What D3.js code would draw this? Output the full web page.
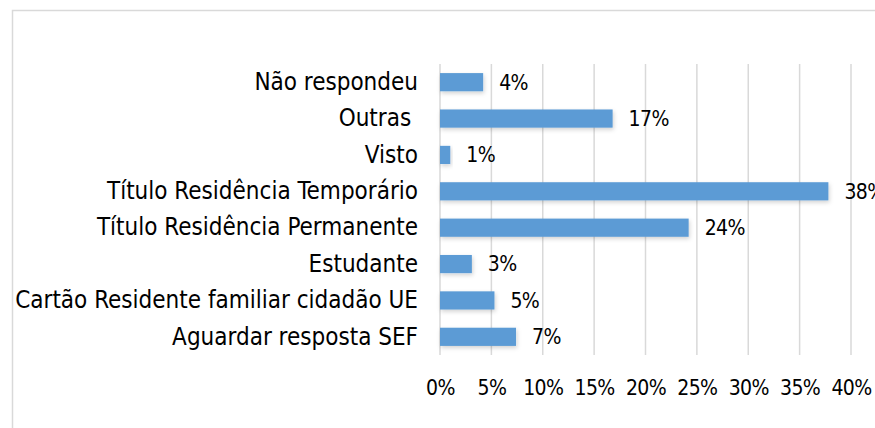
<!DOCTYPE html>
<html>
<head>
<meta charset="utf-8">
<script src="https://cdn.jsdelivr.net/npm/d3@7"></script>
<style>
    body { margin: 0; background: #fff; }
    svg text { fill: #000; }
</style>
</head>
<body>
<div id="chart"></div>
<script>
(function(){
    "use strict";

    var categories = [
        "Não respondeu",
        "Outras ",
        "Visto",
        "Título Residência Temporário",
        "Título Residência Permanente",
        "Estudante",
        "Cartão Residente familiar cidadão UE",
        "Aguardar resposta SEF"
    ];
    var values = [0.042, 0.168, 0.010, 0.378, 0.242, 0.031, 0.053, 0.074];
    var tickValues = [0, 0.05, 0.10, 0.15, 0.20, 0.25, 0.30, 0.35, 0.40];

    var width = 875, height = 428;
    var margin = { top: 64, right: 24, bottom: 73, left: 440 };
    var labelFont = "\"DejaVu Sans Condensed\", \"DejaVu Sans\", sans-serif";

    var svg = d3.select("#chart")
        .append("svg")
        .attr("width", width)
        .attr("height", height);

    // outer frame
    svg.append("rect")
        .attr("x", 12.5)
        .attr("y", 10.5)
        .attr("width", width)
        .attr("height", height)
        .attr("fill", "none")
        .attr("stroke", "#d9d9d9")
        .attr("stroke-width", 1.5);

    var x = d3.scaleLinear()
        .domain([0, 0.40])
        .range([margin.left, 851]);

    var y = d3.scaleBand()
        .domain(categories)
        .range([margin.top, height - margin.bottom])
        .paddingInner(0.5)
        .paddingOuter(0.25);

    var fmt = d3.format(".0%");

    // gridlines
    svg.append("g")
        .selectAll("line")
        .data(tickValues)
        .enter()
        .append("line")
        .attr("x1", function(d) { return x(d); })
        .attr("x2", function(d) { return x(d); })
        .attr("y1", margin.top)
        .attr("y2", height - margin.bottom)
        .attr("stroke", "#d9d9d9")
        .attr("stroke-width", 1.5);

    // x tick labels
    var xAxis = d3.axisBottom(x)
        .tickValues(tickValues)
        .tickFormat(fmt)
        .tickSize(0)
        .tickPadding(0);

    var gx = svg.append("g")
        .attr("transform", "translate(0," + 388 + ")")
        .call(xAxis);
    gx.select(".domain").remove();
    gx.selectAll("text")
        .attr("dy", "0.35em")
        .style("font-size", "21px")
        .style("letter-spacing", "-0.6px")
        .style("font-family", labelFont)
        .style("fill", "#000");

    // y category labels
    var yAxis = d3.axisLeft(y)
        .tickSize(0)
        .tickPadding(22);

    var gy = svg.append("g")
        .attr("transform", "translate(" + margin.left + ",0)")
        .call(yAxis);
    gy.select(".domain").remove();
    gy.selectAll("text")
        .style("font-size", "24px")
        .style("white-space", "pre")
        .style("font-family", labelFont)
        .style("fill", "#000");

    // bar shadow filter
    var defs = svg.append("defs");
    var filter = defs.append("filter")
        .attr("id", "shadow")
        .attr("x", "-10%").attr("y", "-30%")
        .attr("width", "130%").attr("height", "180%");
    filter.append("feDropShadow")
        .attr("dx", 1).attr("dy", 2)
        .attr("stdDeviation", 2)
        .attr("flood-color", "#000")
        .attr("flood-opacity", 0.18);

    svg.append("g")
        .selectAll("rect")
        .data(values)
        .enter()
        .append("rect")
        .attr("x", x(0))
        .attr("y", function(d, i) { return y(categories[i]); })
        .attr("width", function(d) { return x(d) - x(0); })
        .attr("height", y.bandwidth())
        .attr("fill", "#5b9bd5")
        .attr("filter", "url(#shadow)");

    svg.append("g")
        .selectAll("text")
        .data(values)
        .enter()
        .append("text")
        .attr("x", function(d) { return x(d) + 16; })
        .attr("y", function(d, i) { return y(categories[i]) + y.bandwidth() / 2; })
        .attr("dy", "0.35em")
        .style("font-size", "21px")
        .style("letter-spacing", "-0.6px")
        .style("font-family", labelFont)
        .text(function(d) { return fmt(d); });
})();
</script>
</body>
</html>
